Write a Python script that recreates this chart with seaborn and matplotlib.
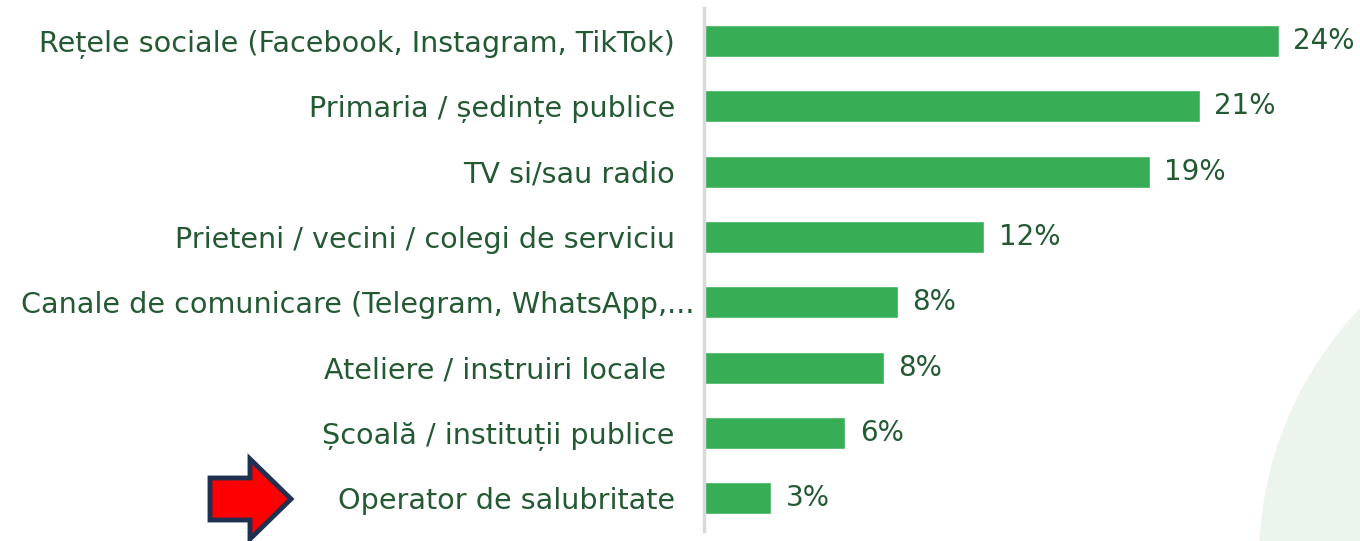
"""Surse de informare - bare orizontale, salvat ca out.png."""

import matplotlib.pyplot as plt
import matplotlib.transforms as mtransforms
import pandas as pd
import seaborn as sns
from matplotlib.patches import Circle, Polygon

sns.set_theme(style="white")
plt.rcParams["font.family"] = ["DejaVu Sans"]

categories = [
    "Rețele sociale (Facebook, Instagram, TikTok)",
    "Primaria / ședințe publice",
    "TV si/sau radio",
    "Prieteni / vecini / colegi de serviciu",
    "Canale de comunicare (Telegram, WhatsApp,...",
    "Ateliere / instruiri locale ",
    "Școală / instituții publice",
    "Operator de salubritate",
]
values = [24.0, 20.7, 18.6, 11.7, 8.1, 7.5, 5.9, 2.8]
value_labels = ["24%", "21%", "19%", "12%", "8%", "8%", "6%", "3%"]

BAR_COLOR = "#37ae56"
TEXT_COLOR = "#245a33"
W, H = 1360, 541

df = pd.DataFrame({"categorie": categories, "procent": values})

fig = plt.figure(figsize=(W / 100, H / 100), dpi=100)

# cerc decorativ in coltul din dreapta jos (coordonate in inch)
fig.patches.append(
    Circle((16.23, -0.19), 3.64, transform=fig.dpi_scale_trans,
           facecolor="#ebf5ed", edgecolor="none", zorder=0)
)

ax = fig.add_axes([704 / W, (H - 530.8) / H, 656 / W, 522.4 / H])
ax.patch.set_alpha(0)

sns.barplot(data=df, x="procent", y="categorie", color=BAR_COLOR,
            saturation=1, width=0.49, ax=ax)

ax.set_xlim(0, 656 / 23.96)
ax.set_xlabel("")
ax.set_ylabel("")
ax.set_xticks([])
for side in ["top", "right", "bottom"]:
    ax.spines[side].set_visible(False)
ax.spines["left"].set_color("#d9d9d9")
ax.spines["left"].set_linewidth(2.5)
ax.tick_params(axis="y", length=0, pad=21, labelsize=20.6, labelcolor=TEXT_COLOR)

# eticheta trunchiata depaseste putin marginea, ca in original
shift = mtransforms.ScaledTranslation(0.2, 0, fig.dpi_scale_trans)
lbl = ax.get_yticklabels()[4]
lbl.set_transform(lbl.get_transform() + shift)

for bar, txt in zip(ax.patches, value_labels):
    ax.text(bar.get_width() + 0.6, bar.get_y() + bar.get_height() / 2, txt,
            va="center", ha="left", fontsize=20, color=TEXT_COLOR)

# sageata rosie langa ultima categorie
arrow_px = [(210, 478), (250, 478), (250, 459), (291, 499),
            (250, 539), (250, 520), (210, 520)]
fig.patches.append(
    Polygon([(x / W, 1 - y / H) for x, y in arrow_px], closed=True,
            transform=fig.transFigure, facecolor="#ff0000",
            edgecolor="#1f3050", linewidth=3.5, joinstyle="miter", zorder=5)
)

fig.savefig("out.png", dpi=100)
